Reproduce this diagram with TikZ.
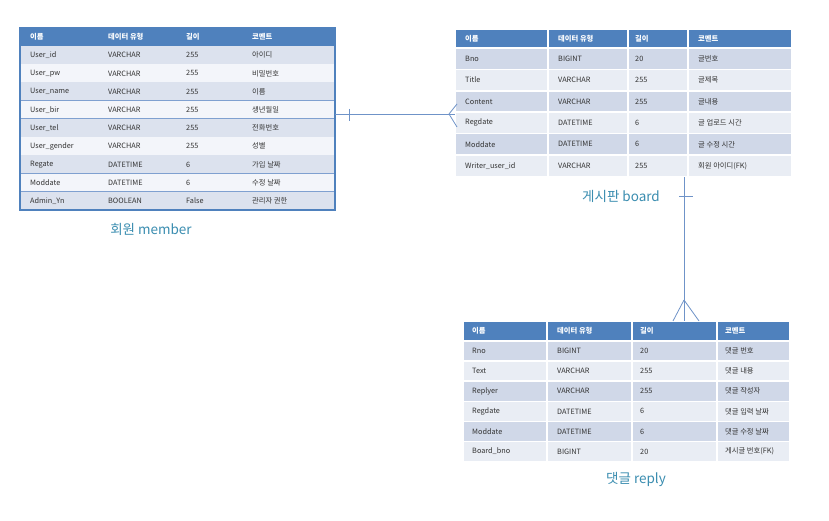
\documentclass[tikz,border=0pt]{standalone}
\usepackage{fontspec}
\setmainfont{Noto Sans CJK KR}
\usetikzlibrary{calc}
\definecolor{hdr}{HTML}{4F81BD}
\definecolor{sep}{HTML}{7FA0D0}
\definecolor{rowA}{HTML}{D0D8E8}
\definecolor{rowB}{HTML}{E9EDF4}
\definecolor{mrowA}{HTML}{DCE2EE}
\definecolor{mrowB}{HTML}{F3F5FA}
\definecolor{lbl}{HTML}{3A8DB0}
\definecolor{conncol}{HTML}{6F93C8}
\begin{document}
\begin{tikzpicture}[x=1pt,y=-1pt,
  cell/.style={anchor=west,font=\fontsize{7.3}{8}\selectfont,inner sep=0pt,text=black!80},
  hcell/.style={cell,text=white,font=\fontsize{7.3}{8}\selectfont\bfseries},
  tbl/.style={draw=none,inner sep=0pt,anchor=north west},
  title/.style={font=\fontsize{13.5}{15}\selectfont,text=lbl},
  conn/.style={draw=conncol,line width=0.8pt},
  gcell/.style={draw=white,line width=1.6pt}]
\useasboundingbox (0,0) rectangle (829,521);
\fill[white] (0,0) rectangle (829,521);

% ---------------- member table ----------------
\node[tbl,minimum width=315pt,minimum height=182pt] (member) at (20,28) {};
\fill[hdr] (20,28) rectangle (335,46);
\foreach \a/\b/\c/\d [count=\i] in {
  User\_id/VARCHAR/255/아이디,
  User\_pw/VARCHAR/255/비밀번호,
  User\_name/VARCHAR/255/이름,
  User\_bir/VARCHAR/255/생년월일,
  User\_tel/VARCHAR/255/전화번호,
  User\_gender/VARCHAR/255/성별,
  Regate/DATETIME/6/가입 날짜,
  Moddate/DATETIME/6/수정 날짜,
  Admin\_Yn/BOOLEAN/False/관리자 권한}{
  \ifodd\i \def\col{mrowA}\else\def\col{mrowB}\fi
  \fill[\col] (20,{46+(\i-1)*18.22}) rectangle (335,{46+\i*18.22});
  \draw[sep,line width=0.8pt] (20,{46+\i*18.22}) -- (335,{46+\i*18.22});
  \node[cell] (m-\i-1) at (30,{46+(\i-0.5)*18.22}) {\a};
  \node[cell] (m-\i-2) at (108,{46+(\i-0.5)*18.22}) {\b};
  \node[cell] (m-\i-3) at (186,{46+(\i-0.5)*18.22}) {\c};
  \node[cell] (m-\i-4) at (252,{46+(\i-0.5)*18.22}) {\d};
}
\draw[hdr,line width=1.2pt] (20,28) rectangle (335,210);
\node[hcell] (mh1) at (30,37) {이름};
\node[hcell] (mh2) at (108,37) {데이터 유형};
\node[hcell] (mh3) at (186,37) {길이};
\node[hcell] (mh4) at (252,37) {코멘트};
\node[title] (mtitle) at (151,229) {회원 member};

% ---------------- board table ----------------
\node[tbl,minimum width=337pt,minimum height=148pt] (board) at (455,29) {};
\def\bx{{455,548,628,688,792}}
\foreach \j in {0,1,2,3}{
  \pgfmathsetmacro\xa{\bx[\j]}\pgfmathsetmacro\xb{\bx[\j+1]}
  \fill[hdr,gcell] (\xa,29) rectangle (\xb,48);
}
\foreach \a/\b/\c/\d [count=\i] in {
  Bno/BIGINT/20/글번호,
  Title/VARCHAR/255/글제목,
  Content/VARCHAR/255/글내용,
  Regdate/DATETIME/6/글 업로드 시간,
  Moddate/DATETIME/6/글 수정 시간,
  Writer\_user\_id/VARCHAR/255/회원 아이디(FK)}{
  \ifodd\i \def\col{rowA}\else\def\col{rowB}\fi
  \foreach \j in {0,1,2,3}{
    \pgfmathsetmacro\xa{\bx[\j]}\pgfmathsetmacro\xb{\bx[\j+1]}
    \fill[\col,gcell] (\xa,{48+(\i-1)*21.4}) rectangle (\xb,{48+\i*21.4});
  }
  \node[cell] (b-\i-1) at (465,{48+(\i-0.5)*21.4}) {\a};
  \node[cell] (b-\i-2) at (558,{48+(\i-0.5)*21.4}) {\b};
  \node[cell] (b-\i-3) at (635,{48+(\i-0.5)*21.4}) {\c};
  \node[cell] (b-\i-4) at (698,{48+(\i-0.5)*21.4}) {\d};
}
\node[hcell] (bh1) at (465,38.5) {이름};
\node[hcell] (bh2) at (558,38.5) {데이터 유형};
\node[hcell] (bh3) at (635,38.5) {길이};
\node[hcell] (bh4) at (698,38.5) {코멘트};
\node[title] (btitle) at (621,196) {게시판 board};

% ---------------- reply table ----------------
\node[tbl,minimum width=327pt,minimum height=140pt] (reply) at (463,321) {};
\def\rx{{463,547,632,717,790}}
\foreach \j in {0,1,2,3}{
  \pgfmathsetmacro\xa{\rx[\j]}\pgfmathsetmacro\xb{\rx[\j+1]}
  \fill[hdr,gcell] (\xa,321) rectangle (\xb,341);
}
\foreach \a/\b/\c/\d [count=\i] in {
  Rno/BIGINT/20/댓글 번호,
  Text/VARCHAR/255/댓글 내용,
  Replyer/VARCHAR/255/댓글 작성자,
  Regdate/DATETIME/6/댓글 입력 날짜,
  Moddate/DATETIME/6/댓글 수정 날짜,
  Board\_bno/BIGINT/20/게시글 번호(FK)}{
  \ifodd\i \def\col{rowA}\else\def\col{rowB}\fi
  \foreach \j in {0,1,2,3}{
    \pgfmathsetmacro\xa{\rx[\j]}\pgfmathsetmacro\xb{\rx[\j+1]}
    \fill[\col,gcell] (\xa,{341+(\i-1)*20.1}) rectangle (\xb,{341+\i*20.1});
  }
  \node[cell] (r-\i-1) at (472,{341+(\i-0.5)*20.1}) {\a};
  \node[cell] (r-\i-2) at (557,{341+(\i-0.5)*20.1}) {\b};
  \node[cell] (r-\i-3) at (640,{341+(\i-0.5)*20.1}) {\c};
  \node[cell] (r-\i-4) at (725,{341+(\i-0.5)*20.1}) {\d};
}
\node[hcell] (rh1) at (472,331) {이름};
\node[hcell] (rh2) at (557,331) {데이터 유형};
\node[hcell] (rh3) at (640,331) {길이};
\node[hcell] (rh4) at (725,331) {코멘트};
\node[title] (rtitle) at (636,479) {댓글 reply};

% ---------------- connectors ----------------
\coordinate (y1) at (0,114);
\coordinate (m1) at (member.east |- y1);
\coordinate (b1) at (board.west |- y1);
\draw[conn] (m1) -- (b1);
\draw[conn] ($(m1)+(14,-5)$) -- ($(m1)+(14,7)$);
\draw[conn] ($(b1)+(-6,0)$) -- ($(b1)+(2,-10)$);
\draw[conn] ($(b1)+(-6,0)$) -- ($(b1)+(2,13)$);

\coordinate (x2) at (684,0);
\coordinate (b2) at (board.south -| x2);
\coordinate (r2) at (reply.north -| x2);
\draw[conn] (b2) -- (r2);
\draw[conn] ($(b2)+(-5,19)$) -- ($(b2)+(9,19)$);
\draw[conn] ($(r2)+(0,-21)$) -- ($(r2)+(-11,0)$);
\draw[conn] ($(r2)+(0,-21)$) -- ($(r2)+(15,0)$);
\end{tikzpicture}
\end{document}
